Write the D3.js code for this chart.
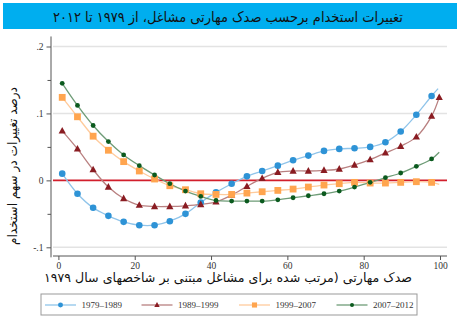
<!DOCTYPE html>
<html><head><meta charset="utf-8">
<script src="https://cdn.jsdelivr.net/npm/d3@7"></script>
<style>
html,body{margin:0;padding:0;background:#fff;}
svg{display:block;}
</style></head>
<body>
<script>
const titleText = "تغییرات استخدام برحسب صدک مهارتی مشاغل، از ۱۹۷۹ تا ۲۰۱۲";
const yTitle = "درصد تغییرات در سهم استخدام";
const xTitle = "صدک مهارتی (مرتب شده برای مشاغل مبتنی بر شاخصهای سال ۱۹۷۹";
const seriesNames = ["1979–1989", "1989–1999", "1999–2007", "2007–2012"];
const xTicks = [0, 20, 40, 60, 80, 100];
const yTicks = [-0.1, 0, 0.1, 0.2];
const yTickLabels = ["-.1", "0", ".1", ".2"];
const yMinorTicks = [-0.05, 0.05, 0.15];

const xPct = [1,5,9.1,13.1,17.1,21.2,25.2,29.2,33.3,37.3,41.3,45.4,49.4,53.4,57.5,61.5,65.5,69.6,73.6,77.6,81.7,85.7,89.7,93.8,97.8];
const xRed = [1,5,9.1,13.1,17.1,21.2,25.2,29.2,33.3,37.3,41.3,45.4,49.4,53.4,57.5,61.5,65.5,69.6,73.6,77.6,81.7,85.7,89.7,93.8,97.8,99.8];
const v1979_1989 = [0.010,-0.020,-0.041,-0.053,-0.062,-0.067,-0.067,-0.061,-0.050,-0.033,-0.018,-0.005,0.006,0.014,0.022,0.030,0.037,0.044,0.047,0.048,0.050,0.057,0.073,0.098,0.126];
const v1989_1999 = [0.074,0.047,0.016,-0.010,-0.027,-0.037,-0.039,-0.039,-0.038,-0.036,-0.032,-0.022,-0.009,0.003,0.012,0.014,0.014,0.015,0.017,0.023,0.031,0.041,0.051,0.065,0.096,0.124];
const v1999_2007 = [0.124,0.095,0.066,0.045,0.028,0.014,0.002,-0.008,-0.014,-0.020,-0.021,-0.021,-0.019,-0.017,-0.015,-0.013,-0.010,-0.007,-0.005,-0.003,-0.004,-0.004,-0.003,-0.002,-0.003];
const v2007_2012 = [0.145,0.112,0.082,0.058,0.038,0.022,0.008,-0.005,-0.016,-0.024,-0.030,-0.031,-0.031,-0.031,-0.029,-0.026,-0.023,-0.020,-0.016,-0.010,-0.003,0.004,0.011,0.021,0.032];
// line end points (smoothed line continues to edge past last marker)
const tailX = [99.5, null, 99.8, 99.8];
const tailY = [0.137, null, -0.006, 0.042];

const W = 462, H = 322;
const svg = d3.select("body").append("svg").attr("width", W).attr("height", H);

const x = d3.scaleLinear().domain([0, 100]).range([58.4, 440]);
const y = d3.scaleLinear().domain([-0.1, 0.2]).range([247.3, 46.5]);

const serif = "'Liberation Serif','DejaVu Serif',serif";
const arab = "'DejaVu Sans',sans-serif";

// Title bar
svg.append("rect").attr("x", 3).attr("y", 3).attr("width", 454).attr("height", 26).attr("fill", "#00AEEF");
svg.append("text").attr("x", 228).attr("y", 21.5).attr("text-anchor", "middle")
  .attr("direction", "rtl")
  .attr("textLength", 350).attr("lengthAdjust", "spacingAndGlyphs")
  .attr("font-family", arab).attr("font-size", 14).attr("fill", "#111").text(titleText);

// gridlines
svg.append("g").selectAll("line").data(yTicks.filter(d => d !== 0)).join("line")
  .attr("x1", 53).attr("x2", 447).attr("y1", d => y(d)).attr("y2", d => y(d))
  .attr("stroke", "#e3e3e3").attr("stroke-width", 1.5);

// y axis
const yAxis = d3.axisLeft(y).tickValues(yTicks).tickFormat((d, i) => yTickLabels[i]).tickSize(4.5).tickPadding(3);
const gy = svg.append("g").attr("transform", "translate(51,0)").call(yAxis);
gy.select(".domain").attr("d", `M0,${y(0.215)}V${y(-0.115)}`).attr("stroke", "#555").attr("stroke-width", 1);
gy.selectAll(".tick line").attr("stroke", "#555");
gy.selectAll(".tick text").attr("font-family", serif).attr("font-size", 9.5).attr("fill", "#333");
const yMinor = d3.axisLeft(y).tickValues(yMinorTicks).tickFormat("").tickSize(3.5);
const gym = svg.append("g").attr("transform", "translate(51,0)").call(yMinor);
gym.select(".domain").remove();
gym.selectAll(".tick line").attr("stroke", "#555");

// x axis
const xAxis = d3.axisBottom(x).tickValues(xTicks).tickSize(4).tickPadding(2);
const gx = svg.append("g").attr("transform", "translate(0,256)").call(xAxis);
gx.select(".domain").attr("d", `M53,0H447`).attr("stroke", "#555").attr("stroke-width", 1);
gx.selectAll(".tick line").attr("stroke", "#555");
gx.selectAll(".tick text").attr("font-family", serif).attr("font-size", 9.5).attr("fill", "#333");

// zero line
svg.append("line").attr("x1", 53).attr("x2", 447).attr("y1", y(0)).attr("y2", y(0))
  .attr("stroke", "#D21F2C").attr("stroke-width", 1.8);

// axis titles
svg.append("text").attr("transform", `translate(17,166) rotate(-90)`).attr("text-anchor", "middle")
  .attr("direction", "rtl").attr("textLength", 158).attr("lengthAdjust", "spacingAndGlyphs")
  .attr("font-family", arab).attr("font-size", 13).attr("fill", "#111").text(yTitle);
svg.append("text").attr("x", 228).attr("y", 282).attr("text-anchor", "middle")
  .attr("direction", "rtl").attr("textLength", 368).attr("lengthAdjust", "spacingAndGlyphs")
  .attr("font-family", arab).attr("font-size", 12.5).attr("fill", "#111").text(xTitle);

const series = [
  {name: seriesNames[0], xs: xPct, vals: v1979_1989, line: "#8FC4EA", mk: "#2E93D6", shape: "circle", size: 3.3},
  {name: seriesNames[1], xs: xRed, vals: v1989_1999, line: "#B98080", mk: "#8A1C22", shape: "triangle", size: 3.6},
  {name: seriesNames[2], xs: xPct, vals: v1999_2007, line: "#FFCB9C", mk: "#FFA54F", shape: "square", size: 3.4},
  {name: seriesNames[3], xs: xPct, vals: v2007_2012, line: "#6E9C77", mk: "#0B5A1E", shape: "dot", size: 2.4}
];

const lineGen = d3.line().x(d => x(d[0])).y(d => y(d[1])).curve(d3.curveCatmullRom.alpha(0.5));

function drawMarker(g, shape, cx, cy, s, color) {
  if (shape === "circle" || shape === "dot") {
    g.append("circle").attr("cx", cx).attr("cy", cy).attr("r", s).attr("fill", color);
  } else if (shape === "square") {
    g.append("rect").attr("x", cx - s).attr("y", cy - s).attr("width", 2 * s).attr("height", 2 * s).attr("fill", color);
  } else if (shape === "triangle") {
    g.append("path").attr("d", `M${cx},${cy - s * 1.1}L${cx + s},${cy + s * 0.75}L${cx - s},${cy + s * 0.75}Z`).attr("fill", color);
  }
}

const plotG = svg.append("g");
series.forEach((s, i) => {
  const pts = s.xs.map((xv, j) => [xv, s.vals[j]]);
  const linePts = tailX[i] !== null ? pts.concat([[tailX[i], tailY[i]]]) : pts;
  plotG.append("path").attr("d", lineGen(linePts)).attr("fill", "none")
    .attr("stroke", s.line).attr("stroke-width", 1.3);
});
series.forEach((s) => {
  const g = plotG.append("g");
  s.xs.forEach((xv, j) => drawMarker(g, s.shape, x(xv), y(s.vals[j]), s.size, s.mk));
});

// legend
const leg = svg.append("g");
leg.append("rect").attr("x", 41).attr("y", 294).attr("width", 376).attr("height", 21)
  .attr("fill", "#fff").attr("stroke", "#999").attr("stroke-width", 1);
const legX = [45, 141.5, 239, 336.5];
series.forEach((s, i) => {
  const lx = legX[i], ly = 305;
  leg.append("line").attr("x1", lx).attr("x2", lx + 31).attr("y1", ly).attr("y2", ly)
    .attr("stroke", s.line).attr("stroke-width", 1.3);
  drawMarker(leg, s.shape, lx + 15.5, ly, s.shape === "dot" ? 2 : s.size * 0.75, s.mk);
  leg.append("text").attr("x", lx + 36.5).attr("y", ly + 3.3).attr("font-family", serif)
    .attr("font-size", 9).attr("fill", "#333").text(s.name);
});
</script>
</body></html>
